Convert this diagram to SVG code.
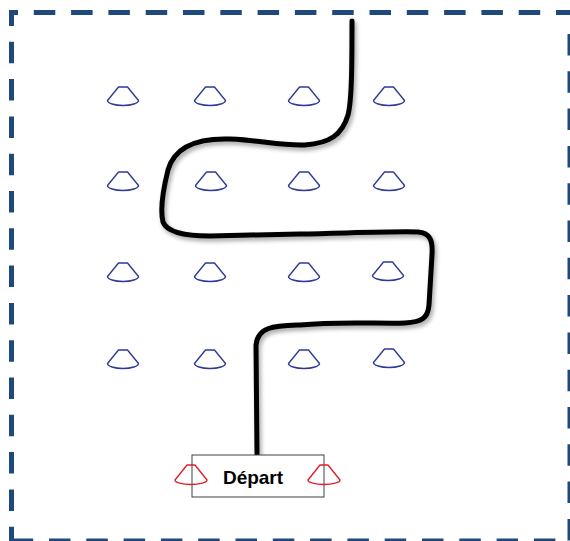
<svg xmlns="http://www.w3.org/2000/svg" width="570" height="541" viewBox="0 0 570 541">
<style>
.border{stroke:#1F497D;stroke-width:5;fill:none;stroke-dasharray:21.5 15.8}
.cone{fill:none;stroke:#2E3A96;stroke-width:1.4;stroke-linejoin:round}
.rcone{fill:none;stroke:#E0202A;stroke-width:1.4;stroke-linejoin:round}
.track{fill:none;stroke:#000;stroke-width:5;stroke-linecap:round;stroke-linejoin:round}
.lbl{font-family:"Liberation Sans",Arial,sans-serif;font-weight:bold;font-size:19px;fill:#000}
</style>
<defs>
<path id="c" d="M-4.5,-10 H4.5 L15.5,3.5 A15.5,5 0 0 1 -15.5,3.5 Z"/>
<path id="rc" d="M-4,-11 H4 L16,4 A16,4.5 0 0 1 -16,4 Z"/>
<filter id="sh" x="-10%" y="-10%" width="120%" height="120%">
<feDropShadow dx="2" dy="3" stdDeviation="2" flood-color="#000" flood-opacity="0.35"/>
</filter>
</defs>
<g id="border">
<line class="border" x1="9" y1="12.5" x2="571" y2="12.5" stroke-dashoffset="12.5"/>
<line class="border" x1="11.5" y1="10" x2="11.5" y2="543" stroke-dashoffset="5.5"/>
<line class="border" x1="11.7" y1="541" x2="572" y2="541"/>
<line class="border" x1="570" y1="34" x2="570" y2="543"/>
</g>
<g id="cones">
<use href="#c" class="cone" x="123" y="97"/>
<use href="#c" class="cone" x="210" y="97"/>
<use href="#c" class="cone" x="304" y="97"/>
<use href="#c" class="cone" x="389" y="97"/>
<use href="#c" class="cone" x="123" y="182"/>
<use href="#c" class="cone" x="211" y="182"/>
<use href="#c" class="cone" x="304" y="182"/>
<use href="#c" class="cone" x="389" y="182"/>
<use href="#c" class="cone" x="123" y="273"/>
<use href="#c" class="cone" x="210" y="273"/>
<use href="#c" class="cone" x="304" y="273"/>
<use href="#c" class="cone" x="388" y="272"/>
<use href="#c" class="cone" x="123" y="360"/>
<use href="#c" class="cone" x="210" y="360"/>
<use href="#c" class="cone" x="304" y="360"/>
<use href="#c" class="cone" x="389" y="359"/>
</g>
<g id="connectors">
<path class="track" filter="url(#sh)" d="M352,21 C352,60 352,100 348,115 C342,135 330,143 305,145 C280,146 260,140 230,139 C200,138 175,145 168,170 C163,190 160,210 163,222 C167,232 185,236 210,236 L300,234 C350,233 400,231 418,232 C430,233 433,240 432,255 L429,305 C428,318 422,322 405,323 C380,324 340,321 300,325 C275,326 258,326 256,345 L257,454"/>
</g>
<g id="depart">
<rect x="192" y="455" width="132" height="42" fill="#fff" stroke="#404040" stroke-width="1"/>
<text class="lbl" x="253" y="484" text-anchor="middle">Départ</text>
<use href="#rc" class="rcone" x="191" y="476"/>
<use href="#rc" class="rcone" x="324" y="476"/>
</g>
</svg>
